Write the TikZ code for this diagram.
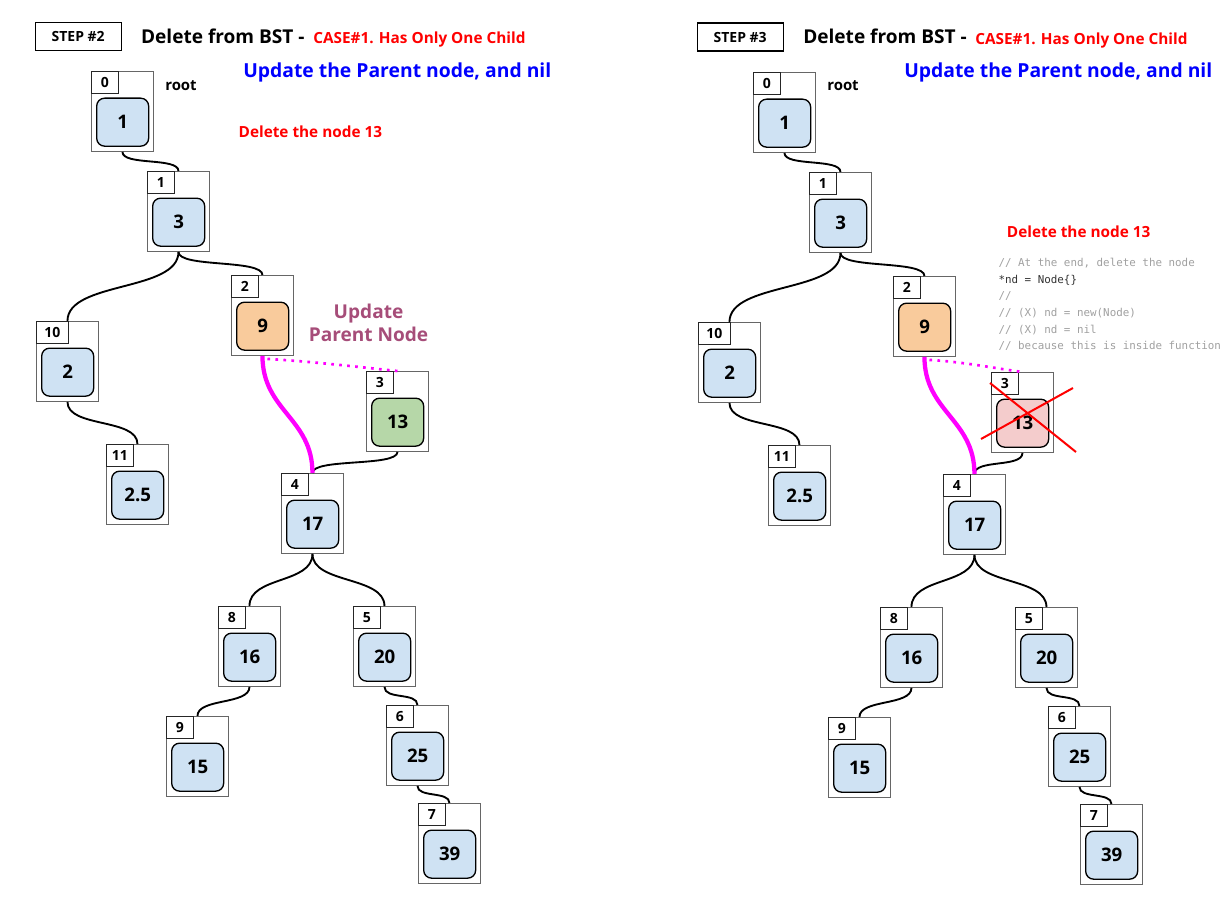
\documentclass[tikz,border=0pt]{standalone}
\usepackage{fontspec}
\setmainfont{Open Sans}
\setmonofont{DejaVu Sans Mono}
\usetikzlibrary{calc}
\definecolor{nodeblue}{HTML}{CFE2F3}
\definecolor{nodeorange}{HTML}{F9CB9C}
\definecolor{nodegreen}{HTML}{B6D7A8}
\definecolor{nodepink}{HTML}{F4CCCC}
\definecolor{plum}{HTML}{A64D79}
\definecolor{pinkline}{HTML}{FF00FF}
\definecolor{codegray}{HTML}{A0A0A0}
\definecolor{codedark}{HTML}{333333}
\tikzset{
  outerbox/.style={draw=black!60, line width=0.7pt, fill=white, anchor=north west,
    minimum width=46.5pt, minimum height=60pt, inner sep=0pt},
  idxbox/.style={draw=black!85, line width=0.7pt, fill=white, anchor=north west,
    minimum width=20.25pt, minimum height=16.5pt, inner sep=1pt,
    font=\bfseries\fontsize{10.5}{11}\selectfont},
  widebox/.style={minimum width=24pt},
  valbox/.style={draw=black, line width=1pt, fill=nodeblue, anchor=north west,
    minimum width=39pt, minimum height=36pt, rounded corners=6pt, inner sep=0pt,
    font=\bfseries\fontsize{14}{16}\selectfont},
  orangefill/.style={fill=nodeorange},
  greenfill/.style={fill=nodegreen},
  pinkfill/.style={fill=nodepink},
  link/.style={draw=black, line width=1.4pt},
  parentlink/.style={draw=pinkline, line width=3.2pt},
  dotlink/.style={draw=pinkline, line width=2pt, dash pattern=on 2pt off 4pt},
  stepbox/.style={draw=black, line width=1pt, anchor=north west, minimum width=64.5pt,
    minimum height=21pt, inner sep=0pt, font=\bfseries\fontsize{10.5}{12}\selectfont},
  titletext/.style={anchor=base west, inner sep=0pt, font=\bfseries\fontsize{14.3}{17}\selectfont},
  casetext/.style={anchor=base west, inner sep=0pt, text=red, font=\bfseries\fontsize{11.5}{13}\selectfont},
  bluetext/.style={anchor=base west, inner sep=0pt, text=blue, font=\bfseries\fontsize{14.5}{17}\selectfont},
  roottext/.style={anchor=base west, inner sep=0pt, font=\bfseries\fontsize{11.2}{13}\selectfont},
  deltext/.style={anchor=base west, inner sep=0pt, text=red, font=\bfseries\fontsize{11.5}{13}\selectfont},
  plumtext/.style={align=center, inner sep=0pt, text=plum, font=\bfseries\fontsize{14.3}{17.5}\selectfont},
  codetext/.style={anchor=base west, inner sep=0pt, text=codegray, font=\ttfamily\fontsize{8.15}{10}\selectfont},
  redx/.style={draw=red, line width=1.5pt},
}
\newcommand{\bstnode}[7]{%
  \node[outerbox] (#1) at (#2,#3) {};
  \node[idxbox,#7] (#1i) at (#1.north west) {#4};
  \node[valbox,#6] (#1v) at ($(#1.north west)+(5,26.5)$) {#5};
}
\newcommand{\conn}[4][link]{%
  \draw[#1] (#2.south) .. controls +(0,#4) and +(0,-#4) .. (#3.north);
}
\begin{document}
\begin{tikzpicture}[x=0.75pt,y=-0.75pt]
\useasboundingbox (0,0) rectangle (1232,899);

% ---------------- LEFT PANEL (STEP #2) ----------------
\node[stepbox] (Lstep) at (34.5,22) {STEP \#2};
\node[titletext] (Ltitle) at (140.8,43.4) {Delete from BST -};
\node[casetext] (Lcase) at (313,44) {CASE\#1. Has Only One Child};
\node[bluetext] (Lupd) at (243,77.3) {Update the Parent node, and nil};
\node[roottext] (Lroot) at (165,90.5) {root};
\node[deltext] (Ldel) at (238.4,137.9) {Delete the node 13};
\node[plumtext] (Lplum) at (368.5,323) {Update\\Parent Node};

\bstnode{L0}{91}{71}{0}{1}{}{}
\bstnode{L1}{147}{171}{1}{3}{}{}
\bstnode{L2}{231}{275}{2}{9}{orangefill}{}
\bstnode{L10}{36}{321}{10}{2}{}{widebox}
\bstnode{L3}{366}{371}{3}{13}{greenfill}{}
\bstnode{L11}{106}{444}{11}{2.5}{}{}
\bstnode{L4}{281}{473}{4}{17}{}{}
\bstnode{L8}{218}{606}{8}{16}{}{}
\bstnode{L5}{353}{606}{5}{20}{}{}
\bstnode{L9}{166}{716}{9}{15}{}{}
\bstnode{L6}{386}{705}{6}{25}{}{}
\bstnode{L7}{418}{803}{7}{39}{}{}

\conn{L0}{L1}{14}
\conn{L1}{L10}{40}
\conn{L1}{L2}{16}
\conn{L10}{L11}{26}
\conn{L4}{L8}{30}
\conn{L4}{L5}{30}
\conn{L8}{L9}{18}
\conn{L5}{L6}{13}
\conn{L6}{L7}{12}
\conn{L3}{L4}{15}
\conn[parentlink]{L2}{L4}{55}
\coordinate (Ldot) at ($(L2.south)+(5,3)$);
\draw[dotlink] (Ldot) .. controls +(50,3) and +(-40,-4) .. (L3.north);

% ---------------- RIGHT PANEL (STEP #3) ----------------
\node[stepbox] (Rstep) at (696.5,22.5) {STEP \#3};
\node[titletext] (Rtitle) at (803,43.9) {Delete from BST -};
\node[casetext] (Rcase) at (975,44.5) {CASE\#1. Has Only One Child};
\node[bluetext] (Rupd) at (904,77.8) {Update the Parent node, and nil};
\node[roottext] (Rroot) at (827,91) {root};
\node[deltext] (Rdel) at (1006.7,237.3) {Delete the node 13};
\node[codetext] (Rc1) at (998.3,266.7) {// At the end, delete the node};
\node[codetext, text=codedark] (Rc2) at (998.3,283.3) {*nd = Node\{\}};
\node[codetext] (Rc3) at (998.3,299.9) {//};
\node[codetext] (Rc4) at (998.3,316.5) {// (X) nd = new(Node)};
\node[codetext] (Rc5) at (998.3,333.1) {// (X) nd = nil};
\node[codetext] (Rc6) at (998.3,349.7) {// because this is inside function};

\bstnode{R0}{753}{72}{0}{1}{}{}
\bstnode{R1}{809}{172}{1}{3}{}{}
\bstnode{R2}{893}{276}{2}{9}{orangefill}{}
\bstnode{R10}{698}{322}{10}{2}{}{widebox}
\bstnode{R3}{991}{372}{3}{13}{pinkfill}{}
\bstnode{R11}{768}{445}{11}{2.5}{}{}
\bstnode{R4}{943}{474}{4}{17}{}{}
\bstnode{R8}{880}{607}{8}{16}{}{}
\bstnode{R5}{1015}{607}{5}{20}{}{}
\bstnode{R9}{828}{717}{9}{15}{}{}
\bstnode{R6}{1048}{706}{6}{25}{}{}
\bstnode{R7}{1080}{804}{7}{39}{}{}

\conn{R0}{R1}{14}
\conn{R1}{R10}{40}
\conn{R1}{R2}{16}
\conn{R10}{R11}{26}
\conn{R4}{R8}{30}
\conn{R4}{R5}{30}
\conn{R8}{R9}{18}
\conn{R5}{R6}{13}
\conn{R6}{R7}{12}
\conn{R3}{R4}{15}
\conn[parentlink]{R2}{R4}{55}
\coordinate (Rdot) at ($(R2.south)+(5,3)$);
\draw[dotlink] (Rdot) .. controls +(35,2) and +(-30,-4) .. (R3.north);

\draw[redx] (990,383) -- (1076,452);
\draw[redx] (981,439) -- (1073,388);
\end{tikzpicture}
\end{document}
